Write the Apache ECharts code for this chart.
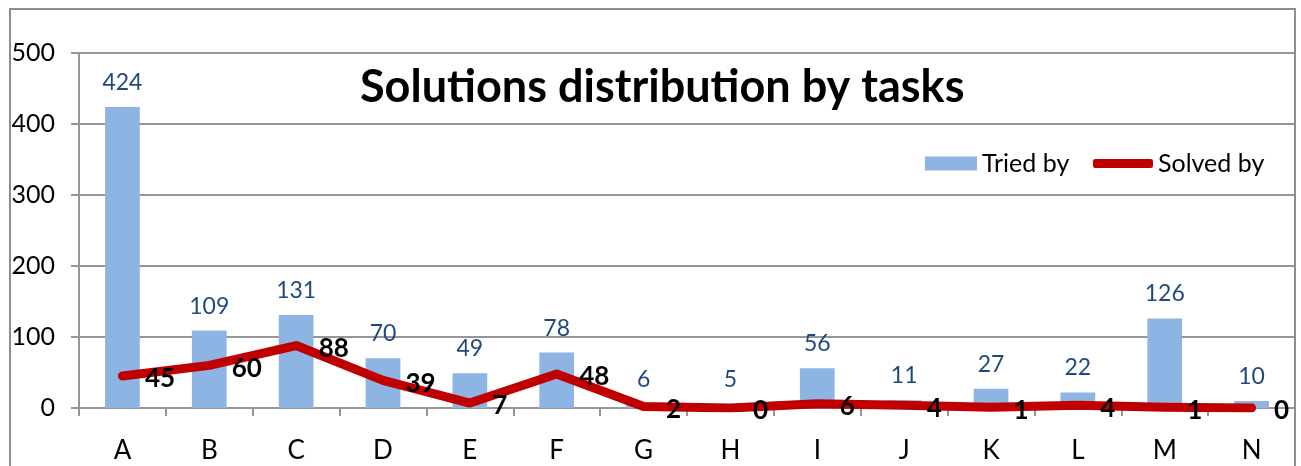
<!DOCTYPE html>
<html>
<head>
<meta charset="utf-8">
<script src="https://cdn.jsdelivr.net/npm/echarts@6/dist/echarts.min.js"></script>
<style>html,body{margin:0;padding:0;background:#fff}#c{width:1301px;height:466px}</style>
</head>
<body>
<div id="c"></div>
<script>
const categories = ['A','B','C','D','E','F','G','H','I','J','K','L','M','N'];
const triedBy = [424,109,131,70,49,78,6,5,56,11,27,22,126,10];
const solvedBy = [45,60,88,39,7,48,2,0,6,4,1,4,1,0];
const yTicks = [0,100,200,300,400,500];
const titleText = 'Solutions distribution by tasks';

const FONT = 'Lato, "Open Sans", sans-serif';
const chart = echarts.init(document.getElementById('c'), null, {renderer:'canvas'});
chart.setOption({
  animation: false,
  backgroundColor: '#fff',
  textStyle: {fontFamily: FONT},
  title: {
    text: titleText, left: 355, top: 60,
    textStyle: {fontSize: 45, fontWeight: 'bold', color: '#000', fontFamily: FONT}
  },
  legend: [{
    data: ['Tried by'], left: 920, top: 146, itemWidth: 52, itemHeight: 14, icon: 'rect',
    textStyle: {fontSize: 25, color: '#000', fontFamily: FONT}
  },{
    data: ['Solved by'], left: 1088, top: 146, itemWidth: 60, itemHeight: 9, icon: 'roundRect',
    textStyle: {fontSize: 25, color: '#000', fontFamily: FONT}
  }],
  grid: {left: 79, right: 6, top: 53, bottom: 58, containLabel: false},
  xAxis: {
    type: 'category', data: categories,
    axisLine: {lineStyle: {color: '#969696', width: 2}},
    axisTick: {show: true, length: 8, lineStyle: {color: '#969696', width: 2}},
    axisLabel: {fontSize: 26, color: '#000', margin: 30, fontFamily: FONT}
  },
  yAxis: {
    type: 'value', min: yTicks[0], max: yTicks[yTicks.length-1], interval: 100,
    axisLine: {show: true, lineStyle: {color: '#969696', width: 2}},
    axisTick: {show: true, length: 8, lineStyle: {color: '#969696', width: 2}},
    splitLine: {lineStyle: {color: '#969696', width: 2}},
    axisLabel: {fontSize: 25, color: '#000', margin: 24, fontFamily: FONT}
  },
  series: [{
    name: 'Tried by', type: 'bar', data: triedBy, barWidth: '40%',
    itemStyle: {color: '#8DB4E2'},
    label: {show: true, position: 'top', distance: 13, fontSize: 23, color: '#1F497D', fontFamily: FONT}
  },{
    name: 'Solved by', type: 'line', data: solvedBy,
    symbol: 'circle', symbolSize: 1, showSymbol: true,
    itemStyle: {color: '#C00000'},
    lineStyle: {color: '#C00000', width: 9, cap: 'round', join: 'round'},
    label: {show: true, position: 'right', distance: 22, offset: [0, 3], fontSize: 26, fontWeight: 'bold', color: '#000', fontFamily: FONT},
    z: 3
  }],
  graphic: [{
    type: 'rect', silent: true, z: 100,
    shape: {x: 10, y: 9, width: 1285, height: 520},
    style: {fill: 'none', stroke: '#8e8e8e', lineWidth: 2}
  }]
});
</script>
</body>
</html>
